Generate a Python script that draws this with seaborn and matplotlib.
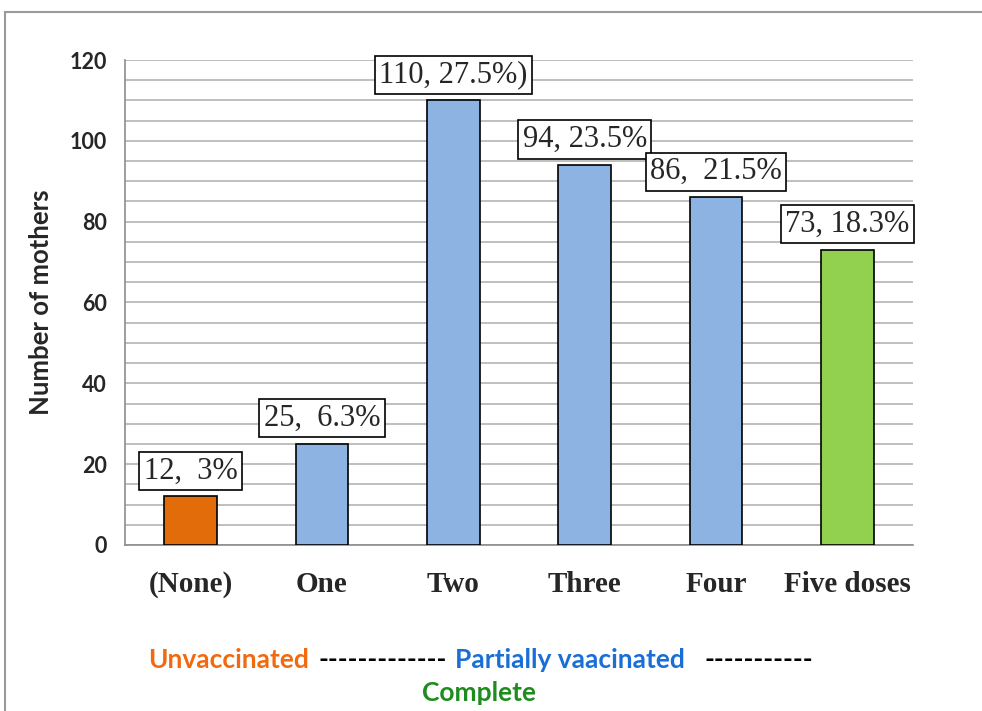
"""Bar chart: number of mothers by TT vaccine doses received."""

import matplotlib

matplotlib.use("Agg")

import matplotlib.pyplot as plt
import pandas as pd
import seaborn as sns
from matplotlib.patches import Rectangle
from matplotlib.ticker import MultipleLocator

categories = ["(None)", "One", "Two", "Three", "Four", "Five doses"]
mothers = [12, 25, 110, 94, 86, 73]
labels = ["12,  3%", "25,  6.3%", "110, 27.5%)", "94, 23.5%", "86,  21.5%", "73, 18.3%"]
bar_colors = ["#E36C0A", "#8DB3E2", "#8DB3E2", "#8DB3E2", "#8DB3E2", "#92D050"]

GRID = "#bfbfbf"
AXIS = "#8c8c8c"


def main() -> None:
    sns.set_style("white")
    plt.rcParams["font.family"] = ["DejaVu Sans"]

    dataframe = pd.DataFrame({"doses": categories, "mothers": mothers})

    fig = plt.figure(figsize=(9.82, 7.11), dpi=100)
    ax = fig.add_axes([0.1273, 0.2335, 0.8024, 0.6821])

    sns.barplot(
        data=dataframe,
        x="doses",
        y="mothers",
        hue="doses",
        palette=bar_colors,
        saturation=1,
        width=0.4,
        edgecolor="black",
        linewidth=1.2,
        legend=False,
        ax=ax,
        zorder=3,
    )

    ax.set_xlim(-0.5, len(categories) - 0.5)
    ax.set_ylim(0, 120)
    ax.yaxis.set_major_locator(MultipleLocator(20))
    ax.yaxis.set_minor_locator(MultipleLocator(5))
    ax.grid(axis="y", which="both", color=GRID, linewidth=1.4, zorder=0)
    ax.set_axisbelow(True)

    for side in ("top", "right"):
        ax.spines[side].set_visible(False)
    for side in ("left", "bottom"):
        ax.spines[side].set_color(AXIS)
        ax.spines[side].set_linewidth(1.2)

    # y ticks: only major ticks get marks
    ax.tick_params(axis="y", which="major", length=5, width=1.2, color=AXIS,
                   direction="out", pad=8)
    ax.tick_params(axis="y", which="minor", length=0)
    for tick in ax.get_yticklabels():
        tick.set_fontweight("bold")
        tick.set_fontsize(15.5)
        tick.set_family("Lato")

    # x ticks: labels at centres, marks at category boundaries
    ax.set_xticks(range(len(categories)))
    ax.set_xticklabels(categories, fontsize=21, fontweight="bold",
                       family="Liberation Serif")
    ax.set_xticks([i - 0.5 for i in range(len(categories) + 1)], minor=True)
    ax.tick_params(axis="x", which="major", length=0, pad=19)
    ax.tick_params(axis="x", which="minor", length=9, width=1.2, color=AXIS,
                   direction="out")

    ax.set_xlabel("")
    ax.set_ylabel("Number of mothers", fontsize=18.5, fontweight="bold",
                  family="Lato", labelpad=12)

    for i, (value, text) in enumerate(zip(mothers, labels)):
        ax.annotate(
            text,
            xy=(i, value),
            xytext=(0, 8),
            textcoords="offset points",
            ha="center",
            va="bottom",
            fontsize=22,
            family="Liberation Serif",
            bbox=dict(boxstyle="square,pad=0.15", facecolor="white",
                      edgecolor="black", linewidth=1.2),
            zorder=5,
        )

    # outer frame of the original figure
    fig.patches.append(Rectangle((5 / 982, -0.1), 1.2, 0.1 + (711 - 12) / 711,
                                 transform=fig.transFigure, fill=False,
                                 edgecolor="#999999", linewidth=1.5))

    line_y = 1 - 660 / 711
    pieces = [
        ("Unvaccinated", "#F26A0F", 148),
        ("-------------", "black", 318),
        ("Partially vaacinated", "#1A6FD6", 455),
        ("-----------", "black", 705),
    ]
    for text, color, x_pix in pieces:
        fig.text(x_pix / 982, line_y, text, color=color, fontsize=19,
                 fontweight="bold", family="Lato", ha="left", va="center")
    fig.text(479 / 982, 1 - 693 / 711, "Complete", color="#1E8C1E", fontsize=19,
             fontweight="bold", family="Lato", ha="center", va="center")

    fig.savefig("out.png", dpi=100)
    plt.close(fig)


if __name__ == "__main__":
    main()
